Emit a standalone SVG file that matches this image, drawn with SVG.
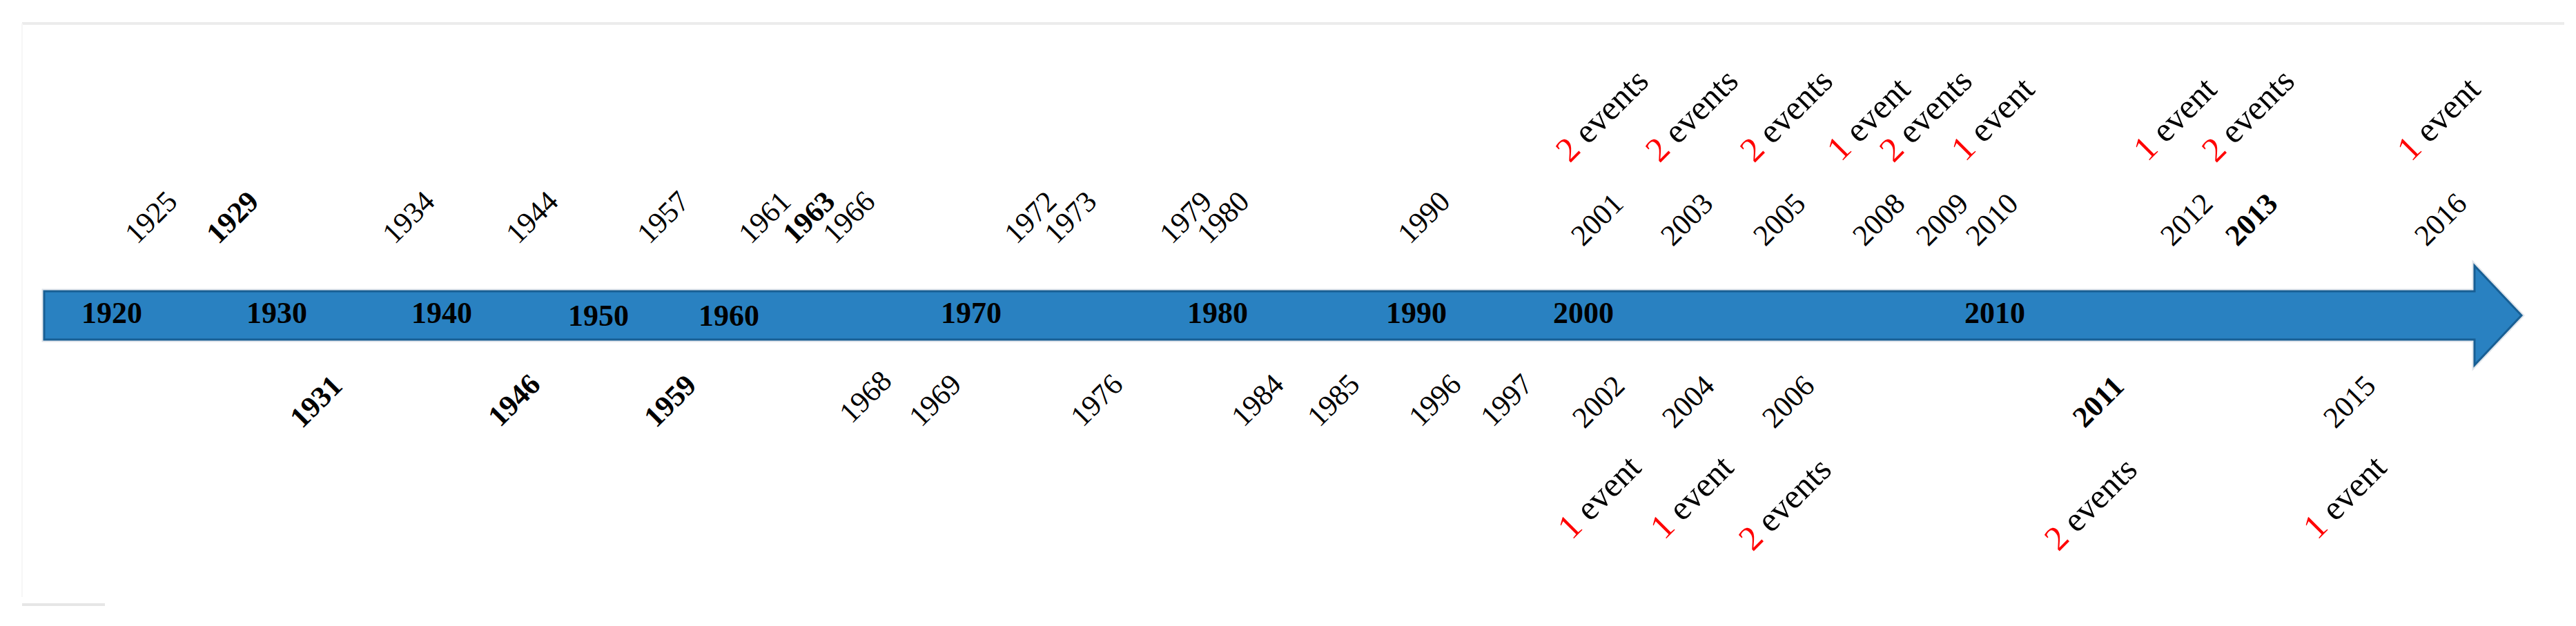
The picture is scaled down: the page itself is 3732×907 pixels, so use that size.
<svg xmlns="http://www.w3.org/2000/svg" width="3732" height="907" viewBox="0 0 3732 907">
<style>
.yr{font-family:"Liberation Serif","Times New Roman",serif;font-size:43px;fill:#000;text-anchor:middle}
.b{font-weight:bold}
.ev{font-family:"Liberation Serif","Times New Roman",serif;font-size:50px;fill:#000;text-anchor:middle}
.n{fill:#ff0000}
.ax{font-family:"Liberation Serif","Times New Roman",serif;font-size:44px;font-weight:bold;fill:#000;text-anchor:middle}
</style>
<rect width="3732" height="907" fill="#ffffff"/>
<g id="frame" stroke="#ececec" fill="none">
<line x1="32" y1="34" x2="3715" y2="34" stroke-width="4"/>
<line x1="32" y1="34" x2="32" y2="865" stroke-width="2" stroke="#f6f6f6"/>
<line x1="32" y1="876" x2="152" y2="876" stroke-width="4" stroke="#e6e6e6"/>
</g>
<g id="axis">
<path d="M64,422 H3585 V385 L3653,457 L3585,529 V492 H64 Z" fill="none" stroke="#dfe4ea" stroke-width="7"/>
<path d="M64,422 H3585 V385 L3653,457 L3585,529 V492 H64 Z" fill="#2981c1" stroke="#185f94" stroke-width="3"/>
<g id="axis-labels">
<text class="ax" x="162" y="468">1920</text>
<text class="ax" x="401" y="468">1930</text>
<text class="ax" x="640" y="468">1940</text>
<text class="ax" x="867" y="472">1950</text>
<text class="ax" x="1056" y="472">1960</text>
<text class="ax" x="1407" y="468">1970</text>
<text class="ax" x="1764" y="468">1980</text>
<text class="ax" x="2052" y="468">1990</text>
<text class="ax" x="2294" y="468">2000</text>
<text class="ax" x="2890" y="468">2010</text>
</g>
</g>
<g id="years-above">
<g id="y1925"><text class="yr" transform="translate(219,315) rotate(-45)" y="14">1925</text></g>
<g id="y1929"><text class="yr b" transform="translate(337,315) rotate(-45)" y="14">1929</text></g>
<g id="y1934"><text class="yr" transform="translate(592,315) rotate(-45)" y="14">1934</text></g>
<g id="y1944"><text class="yr" transform="translate(771,315) rotate(-45)" y="14">1944</text></g>
<g id="y1957"><text class="yr" transform="translate(961,315) rotate(-45)" y="14">1957</text></g>
<g id="y1961"><text class="yr" transform="translate(1108,315) rotate(-45)" y="14">1961</text></g>
<g id="y1963"><text class="yr b" transform="translate(1172,315) rotate(-45)" y="14">1963</text></g>
<g id="y1966"><text class="yr" transform="translate(1230,315) rotate(-45)" y="14">1966</text></g>
<g id="y1972"><text class="yr" transform="translate(1493,315) rotate(-45)" y="14">1972</text></g>
<g id="y1973"><text class="yr" transform="translate(1551,315) rotate(-45)" y="14">1973</text></g>
<g id="y1979"><text class="yr" transform="translate(1718,315) rotate(-45)" y="14">1979</text></g>
<g id="y1980"><text class="yr" transform="translate(1772,315) rotate(-45)" y="14">1980</text></g>
<g id="y1990"><text class="yr" transform="translate(2063,315) rotate(-45)" y="14">1990</text></g>
<g id="y2001"><text class="yr" transform="translate(2314,318) rotate(-45)" y="14">2001</text></g>
<g id="y2003"><text class="yr" transform="translate(2444,318) rotate(-45)" y="14">2003</text></g>
<g id="y2005"><text class="yr" transform="translate(2578,318) rotate(-45)" y="14">2005</text></g>
<g id="y2008"><text class="yr" transform="translate(2722,318) rotate(-45)" y="14">2008</text></g>
<g id="y2009"><text class="yr" transform="translate(2814,318) rotate(-45)" y="14">2009</text></g>
<g id="y2010"><text class="yr" transform="translate(2886,318) rotate(-45)" y="14">2010</text></g>
<g id="y2012"><text class="yr" transform="translate(3168,318) rotate(-45)" y="14">2012</text></g>
<g id="y2013"><text class="yr b" transform="translate(3262,318) rotate(-45)" y="14">2013</text></g>
<g id="y2016"><text class="yr" transform="translate(3536,318) rotate(-45)" y="14">2016</text></g>
</g>
<g id="events-above">
<g id="e2001"><text class="ev" transform="translate(2322,168) rotate(-45)" y="15"><tspan class="n">2</tspan> events</text></g>
<g id="e2003"><text class="ev" transform="translate(2452,168) rotate(-45)" y="15"><tspan class="n">2</tspan> events</text></g>
<g id="e2005"><text class="ev" transform="translate(2589,168) rotate(-45)" y="15"><tspan class="n">2</tspan> events</text></g>
<g id="e2008"><text class="ev" transform="translate(2708,173) rotate(-45)" y="15"><tspan class="n">1</tspan> event</text></g>
<g id="e2009"><text class="ev" transform="translate(2791,168) rotate(-45)" y="15"><tspan class="n">2</tspan> events</text></g>
<g id="e2010"><text class="ev" transform="translate(2888,173) rotate(-45)" y="15"><tspan class="n">1</tspan> event</text></g>
<g id="e2012"><text class="ev" transform="translate(3152,173) rotate(-45)" y="15"><tspan class="n">1</tspan> event</text></g>
<g id="e2013"><text class="ev" transform="translate(3258,168) rotate(-45)" y="15"><tspan class="n">2</tspan> events</text></g>
<g id="e2016"><text class="ev" transform="translate(3534,173) rotate(-45)" y="15"><tspan class="n">1</tspan> event</text></g>
</g>
<g id="years-below">
<g id="y1931"><text class="yr b" transform="translate(458,582) rotate(-45)" y="14">1931</text></g>
<g id="y1946"><text class="yr b" transform="translate(745,580) rotate(-45)" y="14">1946</text></g>
<g id="y1959"><text class="yr b" transform="translate(971,581) rotate(-45)" y="14">1959</text></g>
<g id="y1968"><text class="yr" transform="translate(1254,575) rotate(-45)" y="14">1968</text></g>
<g id="y1969"><text class="yr" transform="translate(1355,580) rotate(-45)" y="14">1969</text></g>
<g id="y1976"><text class="yr" transform="translate(1589,580) rotate(-45)" y="14">1976</text></g>
<g id="y1984"><text class="yr" transform="translate(1822,580) rotate(-45)" y="14">1984</text></g>
<g id="y1985"><text class="yr" transform="translate(1932,580) rotate(-45)" y="14">1985</text></g>
<g id="y1996"><text class="yr" transform="translate(2079,580) rotate(-45)" y="14">1996</text></g>
<g id="y1997"><text class="yr" transform="translate(2183,580) rotate(-45)" y="14">1997</text></g>
<g id="y2002"><text class="yr" transform="translate(2316,582) rotate(-45)" y="14">2002</text></g>
<g id="y2004"><text class="yr" transform="translate(2446,582) rotate(-45)" y="14">2004</text></g>
<g id="y2006"><text class="yr" transform="translate(2591,582) rotate(-45)" y="14">2006</text></g>
<g id="y2011"><text class="yr b" transform="translate(3040,582) rotate(-45)" y="14">2011</text></g>
<g id="y2015"><text class="yr" transform="translate(3404,582) rotate(-45)" y="14">2015</text></g>
</g>
<g id="events-below">
<g id="e2002"><text class="ev" transform="translate(2318,721) rotate(-45)" y="15"><tspan class="n">1</tspan> event</text></g>
<g id="e2004"><text class="ev" transform="translate(2452,721) rotate(-45)" y="15"><tspan class="n">1</tspan> event</text></g>
<g id="e2006"><text class="ev" transform="translate(2587,731) rotate(-45)" y="15"><tspan class="n">2</tspan> events</text></g>
<g id="e2011"><text class="ev" transform="translate(3030,731) rotate(-45)" y="15"><tspan class="n">2</tspan> events</text></g>
<g id="e2015"><text class="ev" transform="translate(3398,721) rotate(-45)" y="15"><tspan class="n">1</tspan> event</text></g>
</g>
<g id="connectors"/>
</svg>
